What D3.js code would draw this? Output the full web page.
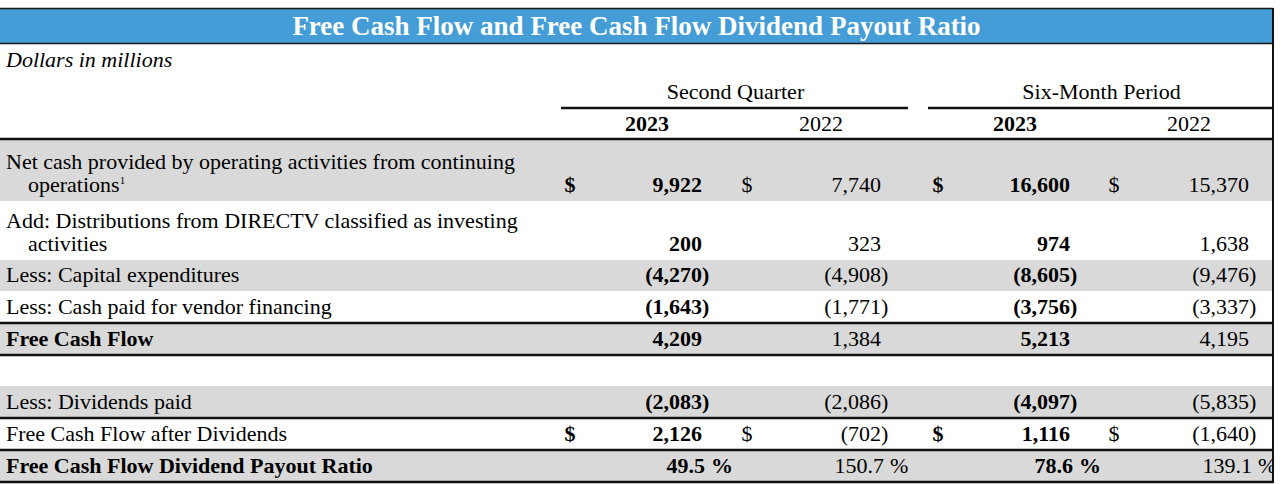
<!DOCTYPE html>
<html>
<head>
<meta charset="utf-8">
<script src="https://cdn.jsdelivr.net/npm/d3@7"></script>
<style>
  html, body { margin: 0; padding: 0; background: #fff; }
  svg { display: block; font-family: "Liberation Serif", "Times New Roman", serif; }
</style>
</head>
<body>
<div id="fcf-table"></div>
<script>
// data
const titleText = "Free Cash Flow and Free Cash Flow Dividend Payout Ratio";
const unitNote = "Dollars in millions";
const periodGroups = ["Second Quarter", "Six-Month Period"];
const columns = ["q2_2023", "q2_2022", "six_2023", "six_2022"];
const columnYears = ["2023", "2022", "2023", "2022"];

const rowLabels = [
  ["Net cash provided by operating activities from continuing", "operations"],
  ["Add: Distributions from DIRECTV classified as investing", "activities"],
  ["Less: Capital expenditures"],
  ["Less: Cash paid for vendor financing"],
  ["Free Cash Flow"],
  [""],
  ["Less: Dividends paid"],
  ["Free Cash Flow after Dividends"],
  ["Free Cash Flow Dividend Payout Ratio"]
];
const q2_2023 = [9922, 200, -4270, -1643, 4209, null, -2083, 2126, 49.5];
const q2_2022 = [7740, 323, -4908, -1771, 1384, null, -2086, -702, 150.7];
const six_2023 = [16600, 974, -8605, -3756, 5213, null, -4097, 1116, 78.6];
const six_2022 = [15370, 1638, -9476, -3337, 4195, null, -5835, -1640, 139.1];
const dollarRows = [0, 7];
const percentRows = [8];
const boldRows = [4, 8];
const footnoteRows = [0];

const seriesByColumn = { q2_2023, q2_2022, six_2023, six_2022 };

// layout
const width = 1280;
const height = 484;
const tableRight = 1273;
const blue = "#449dd6";
const gray = "#d9d9d9";
const fontSize = 22;

const rowHeights = [61, 59, 31, 32, 32, 31, 32, 32, 32];
const rowTop = 140;
const rowY = rowHeights.reduce((acc, h, i) => { acc.push(i === 0 ? rowTop : acc[i - 1] + rowHeights[i - 1]); return acc; }, []);
const shaded = [true, false, true, false, true, false, true, false, true];
const rulesAfter = [3, 4, 6, 7, 8];

const xRight = d3.scaleOrdinal().domain(columns).range([702, 881, 1070, 1249]);
const xDollar = d3.scaleOrdinal().domain(columns).range([570, 747, 938, 1114]);
const xYear = d3.scaleOrdinal().domain(columns).range([647, 821, 1015, 1189]);
const xGroup = d3.scaleOrdinal().domain(periodGroups).range([[561, 908], [928, 1273]]);

const svg = d3.select("#fcf-table")
  .append("svg")
  .attr("width", width)
  .attr("height", height);

svg.append("defs").append("clipPath")
  .attr("id", "table-clip")
  .append("rect")
  .attr("x", 0).attr("y", 0)
  .attr("width", tableRight - 1).attr("height", height);

// title bar
svg.append("rect")
  .attr("x", 0).attr("y", 8)
  .attr("width", tableRight).attr("height", 36)
  .attr("fill", blue);
svg.append("line").attr("x1", 0).attr("x2", tableRight).attr("y1", 8.5).attr("y2", 8.5)
  .attr("stroke", "#1a1a1a").attr("stroke-width", 1.5);
svg.append("line").attr("x1", 0).attr("x2", tableRight).attr("y1", 43.5).attr("y2", 43.5)
  .attr("stroke", "#1a1a1a").attr("stroke-width", 1.5);
svg.append("text")
  .attr("x", tableRight / 2)
  .attr("y", 35)
  .attr("text-anchor", "middle")
  .attr("fill", "#fff")
  .attr("font-weight", "bold")
  .attr("font-size", 27)
  .text(titleText);

svg.append("text")
  .attr("x", 6).attr("y", 67)
  .attr("font-style", "italic")
  .attr("font-size", fontSize)
  .text(unitNote);

// period headers with underline
periodGroups.forEach(p => {
  const [a, b] = xGroup(p);
  svg.append("text")
    .attr("x", (a + b) / 2 + 1).attr("y", 99)
    .attr("text-anchor", "middle")
    .attr("font-size", fontSize)
    .text(p);
  svg.append("line")
    .attr("x1", a).attr("x2", b).attr("y1", 108).attr("y2", 108)
    .attr("stroke", "#111").attr("stroke-width", 2.5);
});

columns.forEach((c, i) => {
  svg.append("text")
    .attr("x", xYear(c)).attr("y", 131)
    .attr("text-anchor", "middle")
    .attr("font-size", fontSize)
    .attr("font-weight", i % 2 === 0 ? "bold" : "normal")
    .text(columnYears[i]);
});

// row backgrounds
svg.append("g")
  .selectAll("rect")
  .data(rowHeights)
  .join("rect")
  .attr("x", 0)
  .attr("y", (d, i) => rowY[i])
  .attr("width", tableRight)
  .attr("height", d => d)
  .attr("fill", (d, i) => shaded[i] ? gray : "#fff");

// row labels
const fmt = d3.format(",");
const rowsG = svg.append("g").attr("clip-path", "url(#table-clip)");
rowLabels.forEach((lines, i) => {
  const base = rowY[i] + rowHeights[i] - 9;
  lines.forEach((line, j) => {
    const t = rowsG.append("text")
      .attr("x", j === 0 ? 6 : 28)
      .attr("y", base - (lines.length - 1 - j) * 23)
      .attr("font-size", fontSize)
      .attr("font-weight", boldRows.includes(i) ? "bold" : "normal")
      .text(line);
    if (j === lines.length - 1 && footnoteRows.includes(i)) {
      t.append("tspan").attr("dy", -8).attr("font-size", 11).text("1");
    }
  });
});

// values
columns.forEach((c, ci) => {
  const bold = ci % 2 === 0 ? "bold" : "normal";
  seriesByColumn[c].forEach((v, i) => {
    if (v == null) return;
    const base = rowY[i] + rowHeights[i] - 9;
    const xr = xRight(c);
    if (dollarRows.includes(i)) {
      rowsG.append("text")
        .attr("x", xDollar(c)).attr("y", base)
        .attr("text-anchor", "middle")
        .attr("font-size", fontSize)
        .attr("font-weight", bold)
        .text("$");
    }
    if (percentRows.includes(i)) {
      rowsG.append("text")
        .attr("x", xr + 3).attr("y", base)
        .attr("text-anchor", "end")
        .attr("font-size", fontSize)
        .attr("font-weight", bold)
        .text(v.toFixed(1));
      rowsG.append("text")
        .attr("x", xr + 9).attr("y", base)
        .attr("font-size", fontSize)
        .attr("font-weight", bold)
        .text("%");
      return;
    }
    rowsG.append("text")
      .attr("x", xr).attr("y", base)
      .attr("text-anchor", "end")
      .attr("font-size", fontSize)
      .attr("font-weight", bold)
      .text(v < 0 ? "(" + fmt(-v) : fmt(v));
    if (v < 0) {
      rowsG.append("text")
        .attr("x", xr).attr("y", base)
        .attr("font-size", fontSize)
        .attr("font-weight", bold)
        .text(")");
    }
  });
});

// rules
svg.append("line")
  .attr("x1", 0).attr("x2", tableRight).attr("y1", 139).attr("y2", 139)
  .attr("stroke", "#111").attr("stroke-width", 2.5);
rulesAfter.forEach(i => {
  const yy = rowY[i] + rowHeights[i];
  svg.append("line")
    .attr("x1", 0).attr("x2", tableRight).attr("y1", yy).attr("y2", yy)
    .attr("stroke", "#111").attr("stroke-width", 2.5);
});
svg.append("line")
  .attr("x1", tableRight).attr("x2", tableRight).attr("y1", 8).attr("y2", rowY[8] + rowHeights[8] + 1)
  .attr("stroke", "#111").attr("stroke-width", 2);
</script>
</body>
</html>
